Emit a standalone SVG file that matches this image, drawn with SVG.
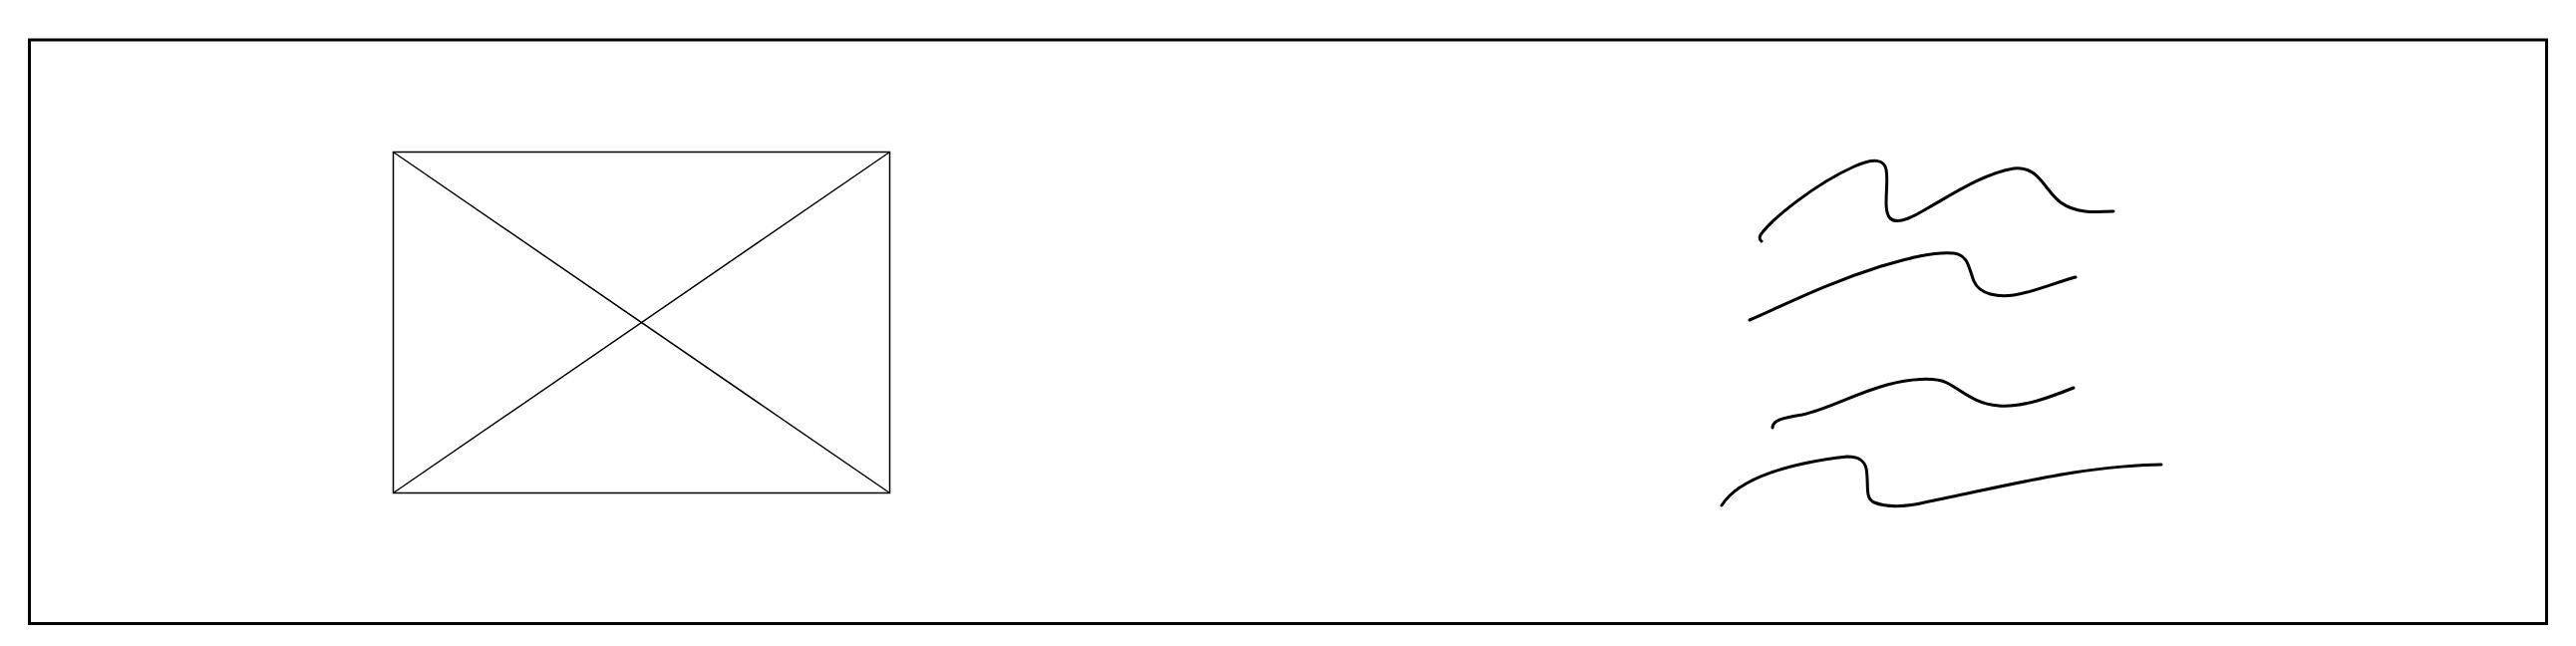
<svg xmlns="http://www.w3.org/2000/svg" width="2584" height="648" viewBox="0 0 2584 648">
<style>
.frame{fill:none;stroke:#000;stroke-width:3}
.ph{fill:none;stroke:#000;stroke-width:1.5}
.sq{fill:none;stroke:#000;stroke-width:3;stroke-linecap:round;stroke-linejoin:round}
</style>
<rect x="0" y="0" width="2584" height="648" fill="#fff"/>
<rect id="frame" class="frame" x="29.5" y="40" width="2525" height="585.5"/>
<g id="image-placeholder">
<rect class="ph" x="394.5" y="152.5" width="498" height="342"/>
<line class="ph" x1="394.5" y1="152.5" x2="892.5" y2="494.5"/>
<line class="ph" x1="892.5" y1="152.5" x2="394.5" y2="494.5"/>
</g>
<g id="text-lines">
<path class="sq" d="M1767,242 C1764,240 1765,236 1768,233 C1780,218 1820,185 1860,167 C1880,158 1890,160 1892,170 C1895,185 1888,210 1896,219 C1904,226 1920,217 1935,208 C1960,194 1990,174 2020,169 C2045,166 2050,190 2067,203 C2082,214 2100,213 2120,212"/>
<path class="sq" d="M1755,321 C1790,306 1830,285 1887,267 C1915,259 1940,252 1960,254 C1975,256 1975,270 1980,282 C1986,296 2005,298 2020,296 C2040,293 2060,284 2082,278"/>
<path class="sq" d="M1778,429 C1778,421 1790,419 1808,416 C1835,410 1860,395 1893,386 C1915,380 1940,378 1953,384 C1967,391 1980,405 2005,407 C2030,409 2060,397 2080,389"/>
<path class="sq" d="M1727,507 C1745,478 1800,464 1853,458 C1865,458 1870,462 1872,470 C1875,485 1870,500 1880,504 C1895,510 1915,508 1935,503 C1980,494 2040,480 2080,474 C2110,469 2150,466 2168,466"/>
</g>
</svg>
